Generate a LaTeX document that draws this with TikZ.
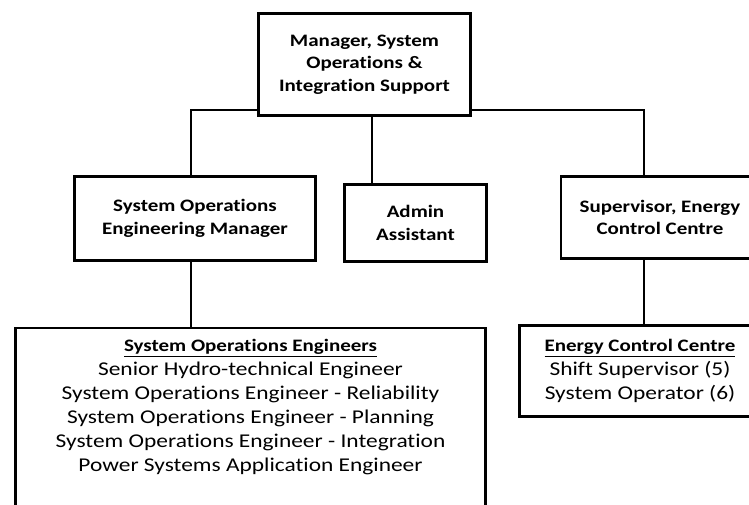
\documentclass[tikz,border=0pt]{standalone}
\usepackage{fontspec}
\setmainfont{Carlito}[FakeStretch=1.2, Ligatures=NoCommon]
\usepackage{tikz}
\usetikzlibrary{backgrounds}

\newcommand{\listhead}[1]{{\fontsize{17.5}{24}\selectfont\bfseries\underline{#1}}}

\begin{document}
\begin{tikzpicture}[x=1pt, y=-1pt,
  post/.style={draw, line width=2.6pt, fill=white, align=center, inner sep=0pt,
    font=\fontsize{17.5}{22.5}\selectfont\bfseries},
  staff/.style={align=center, inner sep=0pt, font=\fontsize{19.5}{24}\selectfont},
  link/.style={line width=1.2pt}]
\path [use as bounding box, clip] (0,0) rectangle (749,504);
\node [post, minimum width=212pt, minimum height=102pt] (mgr) at (364.5,64.5) {Manager, System\\Operations \&\\Integration Support};
\node [post, minimum width=241pt, minimum height=84pt] (som) at (195,218.5) {System Operations\\Engineering Manager};
\node [post, minimum width=142pt, minimum height=77pt] (admin) at (415.5,223) {Admin\\Assistant};
\node [post, minimum width=198pt, minimum height=82pt] (sup) at (660,217.5) {Supervisor, Energy\\Control Centre};
\node [post, minimum width=470pt, minimum height=220pt, anchor=north] (eng) at (250.5,326.5) {};
\node [post, minimum width=241pt, minimum height=91pt] (ecc) at (640,371) {};
\node [staff, anchor=north] (englist) at (250.5,339) {\listhead{System Operations Engineers}\\Senior Hydro-technical Engineer\\System Operations Engineer - Reliability\\System Operations Engineer - Planning\\System Operations Engineer - Integration\\Power Systems Application Engineer};
\node [staff, anchor=north] (ecclist) at (640,339) {\listhead{Energy Control Centre}\\Shift Supervisor (5)\\System Operator (6)};
\coordinate (busL) at (191,110);
\coordinate (busR) at (644,110);
\coordinate (drop) at (372,110);
\begin{scope}[on background layer]
\draw [link] (som.north -| busL) |- (busR) -- (sup.north -| busR);
\draw [link] (mgr.south -| drop) -- (admin.north -| drop);
\draw [link] (som.south -| busL) -- (eng.north -| busL);
\draw [link] (sup.south -| busR) -- (ecc.north -| busR);
\end{scope}
\end{tikzpicture}
\end{document}
